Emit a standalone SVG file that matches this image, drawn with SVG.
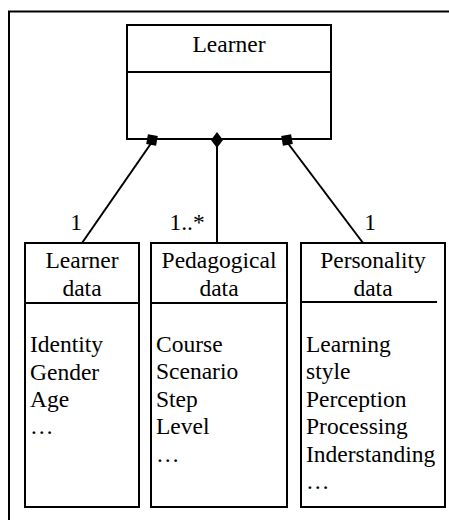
<svg xmlns="http://www.w3.org/2000/svg" width="449" height="520" viewBox="0 0 449 520">
<style>
.box{fill:#fff;stroke:#000;stroke-width:2}
.ln{fill:none;stroke:#000;stroke-width:2}
text{font-family:'Liberation Serif',serif;font-size:23.5px;fill:#000}
.c{text-anchor:middle}
</style>
<rect width="449" height="520" fill="#fff"/>
<path class="ln" d="M9,520 V11.5 H449"/>
<g id="learner" font-family="Liberation Serif, serif" font-size="23.5">
<rect class="box" x="127" y="25" width="204" height="114"/>
<line class="ln" x1="127" y1="72" x2="331" y2="72"/>
<text class="c" x="229" y="52" text-anchor="middle">Learner</text>
</g>
<g id="learner-data" font-family="Liberation Serif, serif" font-size="23.5">
<rect class="box" x="25" y="243" width="114" height="264"/>
<line class="ln" x1="25" y1="303" x2="139" y2="303"/>
<text x="82" y="268" text-anchor="middle">Learner</text>
<text x="82" y="296" text-anchor="middle">data</text>
<text x="30" y="352">Identity</text>
<text x="30" y="380">Gender</text>
<text x="30" y="407">Age</text>
<text x="30" y="434">…</text>
</g>
<g id="pedagogical-data" font-family="Liberation Serif, serif" font-size="23.5">
<rect class="box" x="151" y="243" width="136" height="264"/>
<line class="ln" x1="151" y1="303" x2="287" y2="303"/>
<text x="219" y="268" text-anchor="middle">Pedagogical</text>
<text x="219" y="296" text-anchor="middle">data</text>
<text x="156" y="352">Course</text>
<text x="156" y="379">Scenario</text>
<text x="156" y="407">Step</text>
<text x="156" y="434">Level</text>
<text x="156" y="462">…</text>
</g>
<g id="personality-data" font-family="Liberation Serif, serif" font-size="23.5">
<rect class="box" x="301" y="243" width="144" height="264"/>
<line class="ln" x1="301" y1="302" x2="437" y2="302"/>
<text x="373" y="268" text-anchor="middle">Personality</text>
<text x="373" y="296" text-anchor="middle">data</text>
<text x="306" y="352">Learning</text>
<text x="306" y="379">style</text>
<text x="306" y="407">Perception</text>
<text x="306" y="434">Processing</text>
<text x="306" y="462">Inderstanding</text>
<text x="306" y="489">…</text>
</g>
<g id="connectors" font-family="Liberation Serif, serif" font-size="23.5">
<line class="ln" x1="152" y1="142" x2="82" y2="243"/>
<rect x="147" y="135" width="10" height="10" fill="#000" transform="rotate(10 152 140)"/>
<line class="ln" x1="217" y1="144" x2="217" y2="243"/>
<path d="M217,132 L223,140 L217,148 L211,140 Z" fill="#000"/>
<line class="ln" x1="287" y1="142" x2="363" y2="243"/>
<rect x="282" y="135" width="10" height="10" fill="#000" transform="rotate(-10 287 140)"/>
<text x="76" y="230" text-anchor="middle">1</text>
<text x="187" y="230" text-anchor="middle">1..*</text>
<text x="370" y="230" text-anchor="middle">1</text>
</g>
</svg>
